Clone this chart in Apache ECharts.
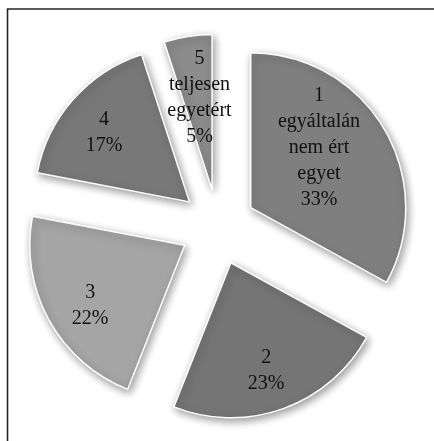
<!DOCTYPE html>
<html>
<head>
<meta charset="utf-8">
<script src="https://cdn.jsdelivr.net/npm/echarts@6/dist/echarts.min.js"></script>
<style>
html,body{margin:0;padding:0;background:#fff;}
#chart{width:434px;height:441px;}
</style>
</head>
<body>
<div id="chart"></div>
<script>
const categories = ['1\negyáltalán\nnem ért\negyet', '2', '3', '4', '5\nteljesen\negyetért'];
const values = [33, 23, 22, 17, 5];
const colors = ['#7f7f7f', '#757575', '#a5a5a5', '#787878', '#8c8c8c'];
const labelNudge = [[-1, -19], [8, 32], [-24, 22], [-25, -16], [0, -12]];

const chart = echarts.init(document.getElementById('chart'), null, {renderer: 'canvas'});

const data = categories.map((c, i) => ({
  name: c,
  value: values[i],
  selected: true,
  itemStyle: {color: colors[i]},
  select: {itemStyle: {color: colors[i]}}
}));

chart.setOption({
  animation: false,
  graphic: [{
    type: 'polyline',
    shape: {points: [[7.5, 441], [7.5, 9], [434, 9]]},
    style: {stroke: '#262626', lineWidth: 1.6, fill: null},
    silent: true
  }],
  series: [{
    type: 'pie',
    center: [218, 227],
    radius: 155,
    startAngle: 90,
    clockwise: true,
    selectedMode: 'multiple',
    selectedOffset: 38,
    percentPrecision: 0,
    data: data,
    itemStyle: {
      borderColor: '#ffffff',
      borderWidth: 1.5,
      shadowColor: 'rgba(0,0,0,0.4)',
      shadowBlur: 8,
      shadowOffsetX: 2,
      shadowOffsetY: 3
    },
    emphasis: {disabled: true, scale: false},
    select: {
      itemStyle: {
        borderColor: '#ffffff',
        borderWidth: 1.5,
        shadowColor: 'rgba(0,0,0,0.4)',
        shadowBlur: 8,
        shadowOffsetX: 2,
        shadowOffsetY: 3
      }
    },
    label: {
      show: true,
      position: 'inside',
      formatter: '{b}\n{d}%',
      color: '#111111',
      fontFamily: '"Liberation Serif", serif',
      fontSize: 20,
      lineHeight: 26,
      align: 'center'
    },
    labelLine: {show: false},
    labelLayout: function (params) {
      const n = labelNudge[params.dataIndex];
      return {dx: n[0], dy: n[1]};
    }
  }]
});
</script>
</body>
</html>
